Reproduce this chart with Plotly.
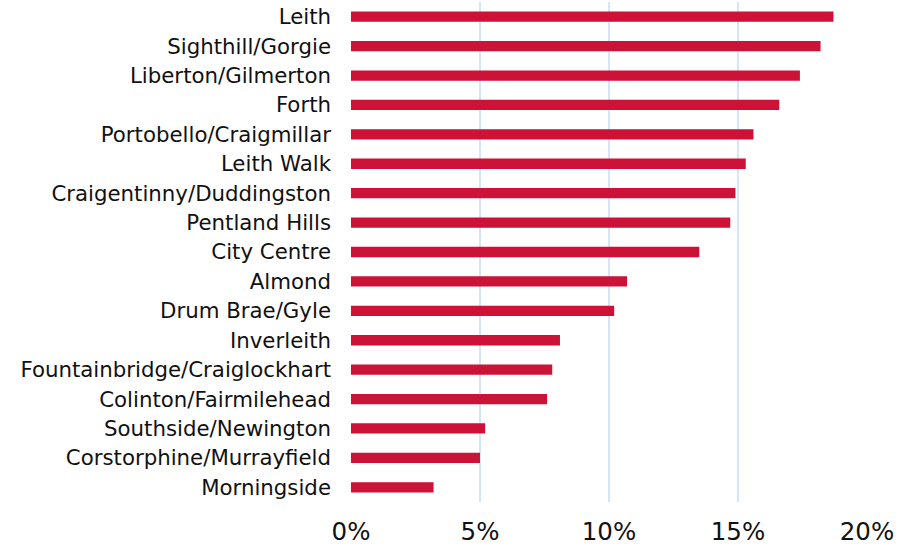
import plotly.graph_objects as go

categories = ["Leith", "Sighthill/Gorgie", "Liberton/Gilmerton", "Forth",
              "Portobello/Craigmillar", "Leith Walk", "Craigentinny/Duddingston",
              "Pentland Hills", "City Centre", "Almond", "Drum Brae/Gyle",
              "Inverleith", "Fountainbridge/Craiglockhart", "Colinton/Fairmilehead",
              "Southside/Newington", "Corstorphine/Murrayfield", "Morningside"]
values = [18.7, 18.2, 17.4, 16.6, 15.6, 15.3, 14.9, 14.7, 13.5, 10.7, 10.2,
          8.1, 7.8, 7.6, 5.2, 5.0, 3.2]
tick_vals = [0, 5, 10, 15, 20]
tick_text = ["0%", "5%", "10%", "15%", "20%"]

fig = go.Figure(go.Bar(
    x=[v / 100 for v in values], y=categories, orientation="h",
    marker=dict(color="#CC1236", line=dict(width=0)), width=0.35,
    hoverinfo="skip",
))
fig.update_layout(
    width=916, height=547,
    margin=dict(l=351, r=49, t=2, b=45),
    paper_bgcolor="white", plot_bgcolor="white",
    font=dict(family="DejaVu Sans, Verdana, sans-serif", color="#111111"),
    showlegend=False,
    bargap=0.65,
    hovermode=False,
)
fig.update_xaxes(
    range=[0, 0.2], tickvals=[t / 100 for t in tick_vals], ticktext=tick_text,
    showgrid=True, gridcolor="#D3E5F6", gridwidth=2,
    zeroline=False, showline=False, ticks="", automargin=False,
    tickfont=dict(size=24.5), ticklabelstandoff=12,
)
fig.update_yaxes(
    autorange="reversed", showgrid=False, zeroline=False, showline=False,
    ticks="", tickfont=dict(size=21.3), ticklabelstandoff=19, automargin=False,
)
fig.write_html("out.html",
               config={"displayModeBar": False, "staticPlot": True},
               post_script="document.body.style.margin='0';document.body.style.overflow='hidden';")
